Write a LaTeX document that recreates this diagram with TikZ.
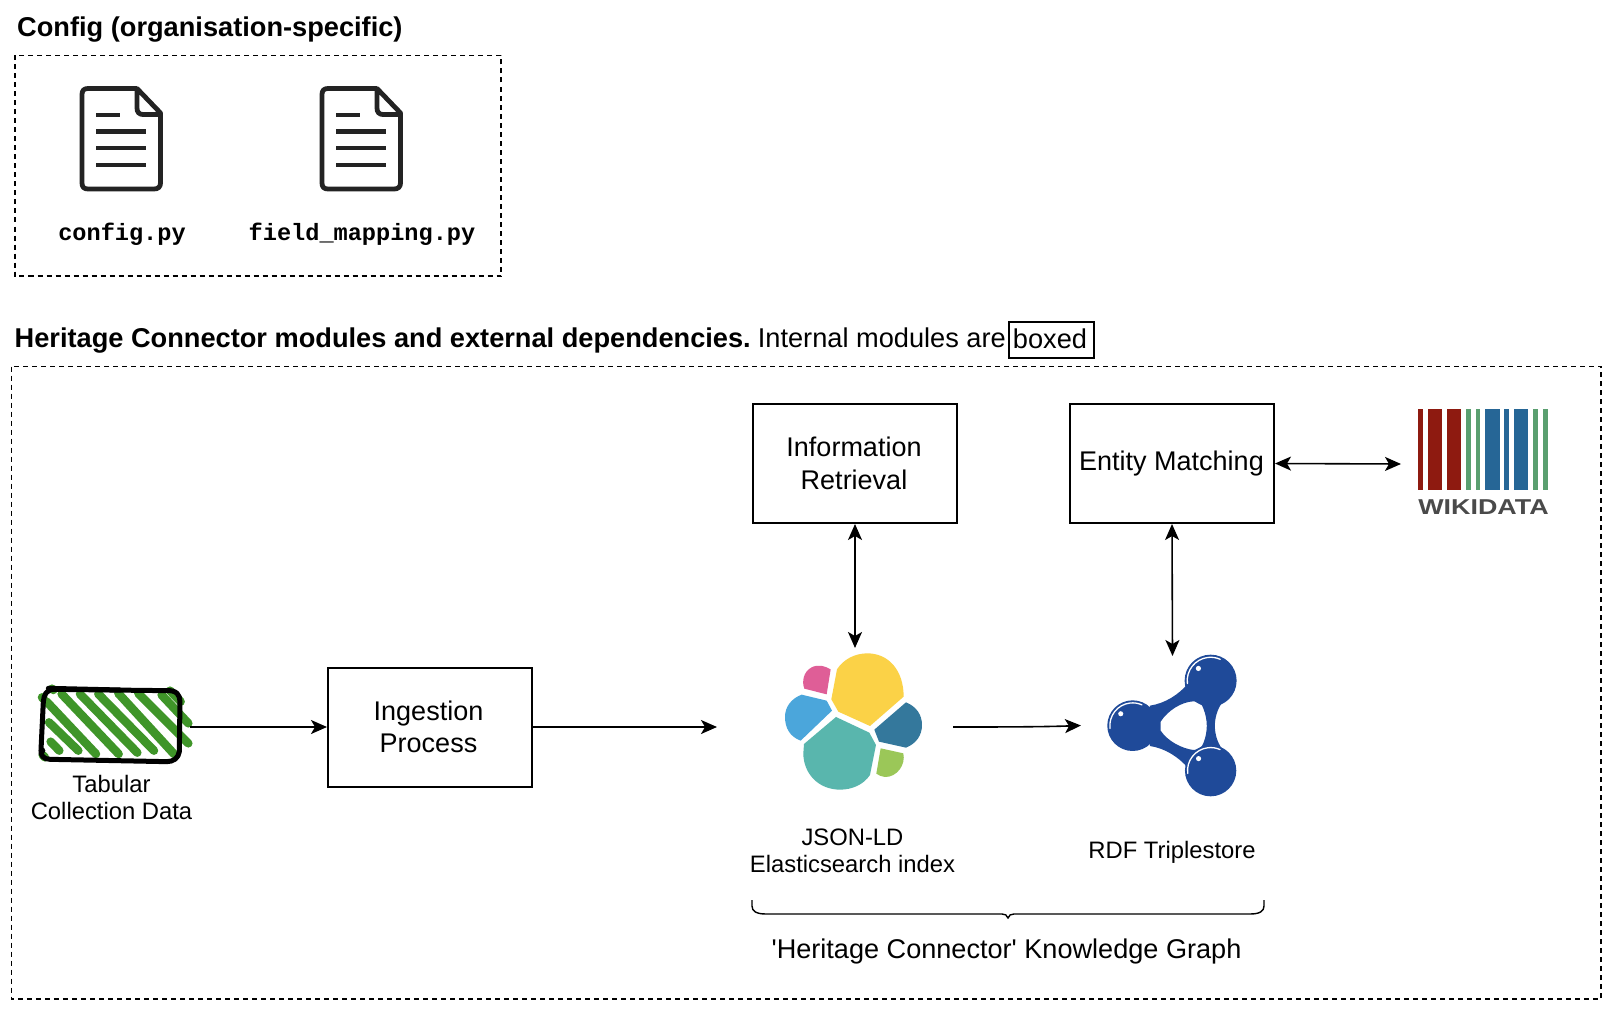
\documentclass[tikz,border=0pt]{standalone}
\usepackage{fontspec}
\setmainfont{Liberation Sans}
\setmonofont{Liberation Mono}
\newfontfamily\plainsans{Liberation Sans}
\usetikzlibrary{arrows.meta}
\definecolor{icon}{HTML}{232323}
\definecolor{esYellow}{HTML}{FBD247}
\definecolor{esPink}{HTML}{DF5E97}
\definecolor{esBlue}{HTML}{4BA6DB}
\definecolor{esTeal}{HTML}{59B6AD}
\definecolor{esDark}{HTML}{34789C}
\definecolor{esGreen}{HTML}{9BC758}
\definecolor{rdfBlue}{HTML}{1F4A99}
\definecolor{wdRed}{HTML}{8E1A10}
\definecolor{wdGreen}{HTML}{5A9F70}
\definecolor{wdBlue}{HTML}{266696}
\definecolor{wdGrey}{HTML}{4A4A4A}
\definecolor{hatch}{HTML}{3F9529}
\tikzset{
  x=1pt,y=-1pt,
  dashbox/.style={draw=black,line width=1.8pt,dash pattern=on 5pt off 4pt},
  modbox/.style={draw=black,line width=2pt,minimum width=204pt,minimum height=119pt,inner sep=0pt,align=center,font=\fontsize{27}{31.5}\selectfont},
  lbl/.style={inner sep=0pt,align=center,font=\fontsize{23.8}{27}\selectfont},
  title/.style={inner sep=0pt,anchor=west,font=\fontsize{27.2}{31}\selectfont},
  monolbl/.style={inner sep=0pt,font=\fontsize{23.6}{27}\selectfont\ttfamily\bfseries},
  conn/.style={draw=black,line width=1.6pt,-{Stealth[length=16pt,width=14pt,inset=4pt]}},
  biconn/.style={draw=black,line width=1.6pt,{Stealth[length=16pt,width=14pt,inset=4pt]}-{Stealth[length=16pt,width=14pt,inset=4pt]}},
  docicon/.style={draw=icon,line width=4.8pt,line join=round,line cap=butt},
  hatchline/.style={draw=hatch,line width=8.5pt,line cap=round},
  sketch/.style={draw=black,line width=5pt,line cap=round,line join=round},
}
\newcommand{\docshape}[1]{%
  \begin{scope}[shift={(#1,0)}]
    \draw[docicon] (137,88.5) -- (88,88.5) .. controls (84,88.5) and (82,90.5) .. (82,94.5) -- (82,183) .. controls (82,187) and (84,189) .. (88,189) -- (154,189) .. controls (158,189) and (160.5,187) .. (160.5,183) -- (160.5,113) -- (137,88.5) -- (137,108) .. controls (137,112) and (139,114.5) .. (143,114.5) -- (160.5,114.5);
    \draw[docicon] (96,115) -- (120,115);
    \draw[docicon] (96,131.5) -- (146,131.5);
    \draw[docicon] (96,148) -- (146,148);
    \draw[docicon] (96,165) -- (146,165);
  \end{scope}}
\newcommand{\wdbar}[3]{\fill[#3] ({1390+#1/3},409) rectangle ({1390+#2/3},489.5);}
% ball: centre x, centre y, radius, in 3x crop units
\newcommand{\rdfball}[3]{%
  \fill[rdfBlue] (#1,#2) circle (#3);
  \draw[white,line width=1.3pt,line cap=round] ({#1+#3*0.9*cos(173)},{#2+#3*0.9*sin(173)}) arc (173:294:{#3*0.9});
  \fill[white] ({#1-#3*0.47},{#2-#3*0.47}) circle ({#3*0.1});
}
\begin{document}
\begin{tikzpicture}
\useasboundingbox (0,0) rectangle (1618,1014);
\fill[white] (0,0) rectangle (1618,1014);

% Titles and group boxes
\node[title] (cfgtitle) at (17,30) {\bfseries Config (organisation-specific)};
\draw[dashbox] (15,55.5) rectangle (501,276);
\node[title] (hctitle) at (14.5,341) {\textbf{Heritage Connector modules and external dependencies.}\kern-3pt{} Internal modules are};
\node[draw=black,line width=1.8pt,minimum width=85pt,minimum height=36pt,inner sep=0pt,font=\fontsize{27.2}{31}\selectfont] (boxed) at (1051.5,340) {\raisebox{2pt}{boxed}\hspace*{3pt}};
\draw[dashbox] (11.5,366.5) rectangle (1601,999);

% Config files
\docshape{0}
\docshape{240}
\node[monolbl] (cfgpy) at (122,234) {config.py};
\node[monolbl] (fmpy) at (362,234) {field\_mapping.py};

% Modules
\node[modbox] (ir) at (854.5,463.5) {Information\hspace*{1pt}\\[1.5pt]Retrieval\hspace*{1pt}};
\node[modbox] (em) at (1172,463.5) {Entity Matching\hspace*{1pt}};
\node[modbox] (ing) at (430,727) {Ingestion\hspace*{3pt}\\Process\hspace*{3pt}};

% Tabular data icon
\begin{scope}[shift={(20,660)},x=0.3333pt,y=-0.3333pt]
  \foreach \a/\b/\c/\d in {92/245/118/272, 87/187/175/272, 80/125/228/282, 125/102/296/282, 180/102/352/278, 235/102/402/272, 295/100/462/282, 355/100/505/250, 425/105/505/190, 450/92/482/125, 66/112/72/118, 96/86/100/90, 68/285/75/292}
    \draw[hatchline] (\a,\b) -- (\c,\d);
  \draw[sketch] (100,88) .. controls (78,90) and (72,105) .. (70,125) -- (63,270) .. controls (61,285) and (70,298) .. (90,298) -- (440,305) .. controls (460,305) and (475,295) .. (478,275) -- (480,125) .. controls (480,105) and (470,90) .. (440,92) -- (100,88);
  \draw[sketch] (85,85) -- (300,90);
  \fill (66,272) circle (10);
\end{scope}
\coordinate (tabright) at (190,727);
\node[lbl] (tablbl) at (111.5,797.5) {Tabular\\Collection Data};

% Elasticsearch logo
\begin{scope}[shift={(760,640)},x=0.3333pt,y=-0.3333pt]
  \fill[esYellow] (231,88) .. controls (250,58) and (285,40) .. (322,40) .. controls (385,40) and (431,90) .. (431,170) -- (330,258) -- (235,215) -- (214,178) -- cycle;
  \fill[esPink] (212,88) -- (200,163) -- (133,146) .. controls (125,125) and (130,95) .. (155,82) .. controls (175,72) and (195,78) .. (212,88) -- cycle;
  \fill[esBlue] (125,164) -- (200,182) -- (216,212) -- (122,302) .. controls (90,290) and (75,265) .. (75,230) .. controls (75,200) and (95,175) .. (125,164) -- cycle;
  \fill[esTeal] (228,231) -- (328,278) -- (348,315) -- (330,405) .. controls (310,435) and (275,449) .. (240,449) .. controls (175,449) and (130,400) .. (130,340) -- (132,312) -- cycle;
  \fill[esDark] (438,187) .. controls (470,200) and (486,225) .. (486,255) .. controls (486,285) and (470,310) .. (438,323) -- (357,305) -- (343,269) -- cycle;
  \fill[esGreen] (362,325) -- (430,340) .. controls (438,375) and (410,412) .. (375,411) .. controls (365,410) and (355,406) .. (349,401) -- cycle;
\end{scope}
\coordinate (estop) at (855,648);
\coordinate (esleft) at (717,727);
\coordinate (esright) at (953,727);
\node[lbl] (eslbl) at (852.5,850.5) {JSON-LD\\Elasticsearch index};

% RDF triplestore logo
\begin{scope}[shift={(760,640)},x=0.3333pt,y=-0.3333pt]
  \fill[rdfBlue,even odd rule] (1170,197) .. controls (1215,190) and (1255,165) .. (1285,130) -- (1385,190) .. controls (1358,230) and (1358,285) .. (1385,325) -- (1285,385) .. controls (1255,350) and (1215,325) .. (1170,318) -- cycle
    (1202,245) .. controls (1225,210) and (1265,186) .. (1300,184) .. controls (1315,184) and (1326,190) .. (1330,205) .. controls (1344,240) and (1344,275) .. (1330,310) .. controls (1326,322) and (1315,330) .. (1300,330) .. controls (1265,325) and (1225,305) .. (1202,272) -- cycle;
  \rdfball{1118}{257}{76}
  \rdfball{1352}{122}{78}
  \rdfball{1352}{392}{77}
\end{scope}
\coordinate (rdftop) at (1172.5,656);
\coordinate (rdfleft) at (1081,725.5);
\node[lbl] (rdflbl) at (1172,852.5) {RDF Triplestore};

% Wikidata logo
\wdbar{85}{100}{wdRed}
\wdbar{113}{157}{wdRed}
\wdbar{170}{214}{wdRed}
\wdbar{228}{243}{wdGreen}
\wdbar{257}{271}{wdGreen}
\wdbar{285}{329}{wdBlue}
\wdbar{342}{358}{wdBlue}
\wdbar{371}{415}{wdBlue}
\wdbar{430}{445}{wdGreen}
\wdbar{459}{474}{wdGreen}
\node[inner sep=0pt,text=wdGrey,font=\fontsize{21.5}{26}\selectfont\bfseries] (wdtext) at (1483.5,507.5) {\scalebox{1.25}[1]{WIKIDATA}};
\coordinate (wdleft) at (1401,464);

% Connectors
\draw[conn] (tabright) -- (ing.west |- tabright);
\draw[conn] (ing.east |- esleft) -- (esleft);
\draw[conn] (esright) .. controls (990,727) and (1040,727) .. (rdfleft);
\draw[biconn] (ir.south -| estop) -- (estop);
\draw[biconn] (em.south) -- (rdftop);
\draw[biconn] (em.east) -- (wdleft);

% Brace
\coordinate (brL) at (752,900);
\coordinate (brR) at (1264,900);
\coordinate (brT) at (1008,918);
\draw[black,line width=1.4pt] (brL) -- (752,906) .. controls (752,911) and (756,914) .. (766,914) -- (1002,914) .. controls (1005,914) and (1007,915) .. (brT) .. controls (1009,915) and (1011,914) .. (1014,914) -- (1250,914) .. controls (1260,914) and (1264,911) .. (1264,906) -- (brR);
\node[inner sep=0pt,font=\fontsize{27.1}{31}\selectfont\plainsans] (kg) at (1006.5,951) {'Heritage Connector' Knowledge Graph};
\end{tikzpicture}
\end{document}
